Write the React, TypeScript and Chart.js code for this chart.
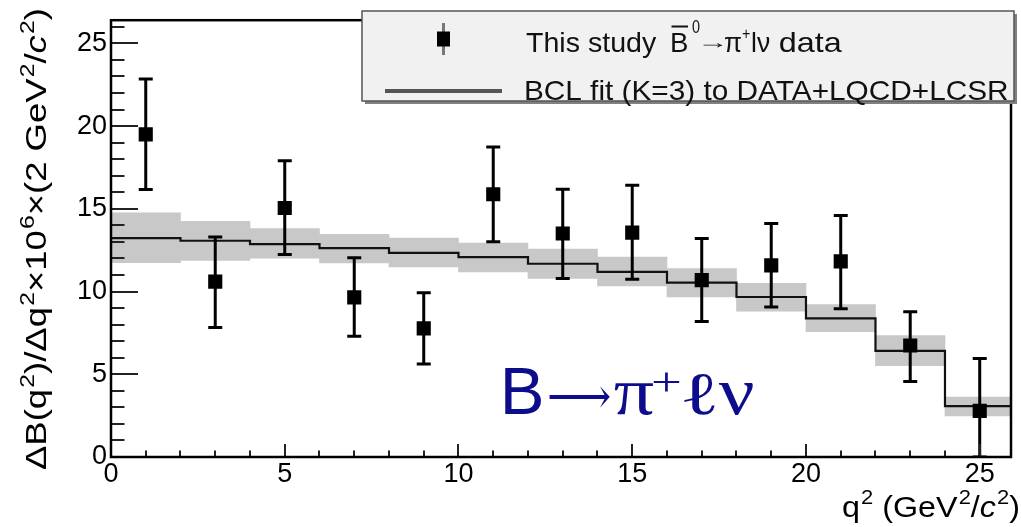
import React, { useEffect, useRef } from "react";
import { Chart, registerables } from "chart.js";

Chart.register(...registerables);

// ---- Data ----
const binEdges = [0, 2, 4, 6, 8, 10, 12, 14, 16, 18, 20, 22, 24, 26];
const fitValues = [13.23, 13.07, 12.87, 12.63, 12.34, 12.08, 11.68, 11.19, 10.54, 9.67, 8.38, 6.41, 3.08];
const bandHigh = [14.75, 14.25, 13.8, 13.46, 13.23, 12.93, 12.57, 12.08, 11.39, 10.5, 9.21, 7.34, 3.62];
const bandLow = [11.74, 11.88, 12.02, 11.73, 11.49, 11.19, 10.79, 10.34, 9.67, 8.82, 7.57, 5.52, 2.49];

const dataQ2 = [1, 3, 5, 7, 9, 11, 13, 15, 17, 19, 21, 23, 25];
const dataValues = [19.5, 10.6, 15.05, 9.65, 7.77, 15.88, 13.51, 13.56, 10.69, 11.58, 11.82, 6.74, 2.79];
const dataUpper = [22.84, 13.3, 17.91, 12.04, 9.93, 18.74, 16.18, 16.43, 13.21, 14.11, 14.59, 8.78, 5.95];
const dataLower = [16.17, 7.83, 12.24, 7.3, 5.62, 13.01, 10.79, 10.75, 8.19, 9.07, 8.96, 4.57, 0];

const xTickValues = [0, 5, 10, 15, 20, 25];
const yTickValues = [0, 5, 10, 15, 20, 25];

const X_MIN = 0;
const X_MAX = 25.9;
const Y_MIN = 0;
const Y_MAX = 26.4;

type Part = { t: string; sup?: boolean; italic?: boolean };
const yTitleParts: Part[] = [
  { t: "ΔB(q" }, { t: "2", sup: true }, { t: ")/Δq" }, { t: "2", sup: true },
  { t: "×10" }, { t: "6", sup: true }, { t: "×(2 GeV" }, { t: "2", sup: true },
  { t: "/" }, { t: "c", italic: true, sup: false }, { t: "2", sup: true }, { t: ")" },
];
const xTitleParts: Part[] = [
  { t: "q" }, { t: "2", sup: true }, { t: " (GeV" }, { t: "2", sup: true },
  { t: "/" }, { t: "c", italic: true }, { t: "2", sup: true }, { t: ")" },
];
const legendLine1 = "This study";
const legendLine2 = "BCL fit (K=3) to DATA+LQCD+LCSR";

const SANS = "'Liberation Sans', Arial, Helvetica, sans-serif";
const SERIF = "'Liberation Serif', 'DejaVu Serif', serif";

// draw text so that its glyph box starts at `left`, optionally stretched to `width`
function drawGlyph(ctx: CanvasRenderingContext2D, text: string, font: string, left: number, baseline: number, width?: number) {
  ctx.font = font;
  const m = ctx.measureText(text);
  const gl = m.actualBoundingBoxLeft;
  const gw = m.actualBoundingBoxLeft + m.actualBoundingBoxRight;
  const s = width ? width / gw : 1;
  ctx.save();
  ctx.translate(left, baseline);
  ctx.scale(s, 1);
  ctx.fillText(text, gl, 0);
  ctx.restore();
}

function richWidth(ctx: CanvasRenderingContext2D, parts: Part[], size: number) {
  let w = 0;
  for (const p of parts) {
    ctx.font = (p.italic ? "italic " : "") + (p.sup ? size * 0.68 : size) + "px " + SANS;
    w += ctx.measureText(p.t).width + (p.sup ? 1 : 0);
  }
  return w;
}

function drawRich(ctx: CanvasRenderingContext2D, parts: Part[], size: number, scale: number) {
  let x = 0;
  ctx.save();
  ctx.scale(scale, 1);
  for (const p of parts) {
    ctx.font = (p.italic ? "italic " : "") + (p.sup ? size * 0.68 : size) + "px " + SANS;
    const dy = p.sup ? -size * 0.42 : 0;
    ctx.fillText(p.t, x + (p.sup ? 1 : 0), dy);
    x += ctx.measureText(p.t).width + (p.sup ? 1 : 0);
  }
  ctx.restore();
}

// ---- Plugins ----
const errorBarPlugin = {
  id: "errorBars",
  afterDatasetsDraw(chart: any) {
    const { ctx, scales, chartArea } = chart;
    const x = scales.x;
    const y = scales.y;
    ctx.save();
    ctx.beginPath();
    ctx.rect(chartArea.left, chartArea.top, chartArea.right - chartArea.left, chartArea.bottom - chartArea.top);
    ctx.clip();
    ctx.strokeStyle = "#000";
    ctx.lineWidth = 3;
    ctx.beginPath();
    dataQ2.forEach((q, i) => {
      const px = x.getPixelForValue(q);
      const top = y.getPixelForValue(dataUpper[i]);
      const bot = y.getPixelForValue(dataLower[i]);
      ctx.moveTo(px, top);
      ctx.lineTo(px, bot);
      ctx.moveTo(px - 7, top);
      ctx.lineTo(px + 7, top);
      ctx.moveTo(px - 7, bot);
      ctx.lineTo(px + 7, bot);
    });
    ctx.stroke();
    ctx.restore();
  },
};

const framePlugin = {
  id: "frameTicks",
  afterDraw(chart: any) {
    const { ctx, scales, chartArea } = chart;
    const x = scales.x;
    const y = scales.y;
    const { left, right, top, bottom } = chartArea;
    const w = right - left;
    const h = bottom - top;

    // inner ticks
    ctx.save();
    ctx.strokeStyle = "#222";
    ctx.lineWidth = 2;
    ctx.beginPath();
    for (let v = 1; v <= Math.floor(Y_MAX); v++) {
      const py = Math.round(y.getPixelForValue(v));
      const len = v % 5 === 0 ? w * 0.03 : w * 0.015;
      ctx.moveTo(left, py);
      ctx.lineTo(left + len, py);
    }
    for (let v = 1; v <= Math.floor(X_MAX); v++) {
      const px = Math.round(x.getPixelForValue(v));
      const len = v % 5 === 0 ? h * 0.03 : h * 0.015;
      ctx.moveTo(px, bottom);
      ctx.lineTo(px, bottom - len);
    }
    ctx.stroke();
    ctx.strokeStyle = "#000";
    ctx.lineWidth = 2.5;
    ctx.strokeRect(left, top, w, h);
    ctx.restore();

    // axis titles
    ctx.save();
    ctx.fillStyle = "#000";
    ctx.textBaseline = "alphabetic";
    ctx.textAlign = "left";
    {
      const size = 29;
      const wq = richWidth(ctx, yTitleParts, size);
      const target = 462;
      ctx.save();
      ctx.translate(46, 470);
      ctx.rotate(-Math.PI / 2);
      drawRich(ctx, yTitleParts, size, target / wq);
      ctx.restore();
    }
    {
      const size = 30;
      const wq = richWidth(ctx, xTitleParts, size);
      const target = 178;
      ctx.save();
      ctx.translate(1020 - target, 517);
      drawRich(ctx, xTitleParts, size, target / wq);
      ctx.restore();
    }
    ctx.restore();

    // legend box
    ctx.save();
    const bx = 362, by = 11, bw = 652, bh = 90;
    ctx.fillStyle = "#808080";
    ctx.fillRect(bx + 3, by + 3, bw, bh);
    ctx.fillStyle = "#f1f1f1";
    ctx.fillRect(bx, by, bw, bh);
    ctx.strokeStyle = "#555";
    ctx.lineWidth = 1.5;
    ctx.strokeRect(bx, by, bw, bh);

    // entry 1 marker
    const mx = 443.5, my = 39;
    ctx.strokeStyle = "#777";
    ctx.lineWidth = 3;
    ctx.beginPath();
    ctx.moveTo(mx, my - 16);
    ctx.lineTo(mx, my + 16);
    ctx.stroke();
    ctx.fillStyle = "#000";
    ctx.fillRect(mx - 6.5, my - 7.5, 13, 15);

    // entry 2 line
    ctx.strokeStyle = "#555";
    ctx.lineWidth = 4;
    ctx.beginPath();
    ctx.moveTo(385, 91);
    ctx.lineTo(502, 91);
    ctx.stroke();

    // text entry 1
    ctx.fillStyle = "#111";
    ctx.textBaseline = "alphabetic";
    ctx.textAlign = "left";
    const f = "28.5px " + SANS;
    const fs = "18px " + SANS;
    const b1 = 52;
    drawGlyph(ctx, legendLine1, f, 526, b1, 131);
    drawGlyph(ctx, "B", f, 672, b1, 15.5);
    ctx.strokeStyle = "#111";
    ctx.lineWidth = 2;
    ctx.beginPath();
    ctx.moveTo(671.5, 26.5);
    ctx.lineTo(688, 26.5);
    ctx.stroke();
    drawGlyph(ctx, "0", fs, 692, 33, 8);
    drawGlyph(ctx, "→", "18px " + SANS, 702, 48, 21);
    drawGlyph(ctx, "π", f, 725, b1, 16.5);
    drawGlyph(ctx, "+", "16px " + SANS, 742, 39, 8);
    drawGlyph(ctx, "lν", f, 752, b1, 18);
    drawGlyph(ctx, "data", f, 780, b1, 62);

    // text entry 2
    drawGlyph(ctx, legendLine2, f, 526, 100, 482);
    ctx.restore();

    // annotation B -> pi+ l nu (anchored on data coordinates)
    ctx.save();
    ctx.fillStyle = "#0c0c8c";
    ctx.textBaseline = "alphabetic";
    const ax = x.getPixelForValue(11.33);
    const ay = y.getPixelForValue(2.61);
    drawGlyph(ctx, "B", "67px " + SANS, ax, ay, 37);
    drawGlyph(ctx, "⟶", "200 50px 'DejaVu Sans', 'DejaVu Serif', serif", ax + 44, ay - 1, 61);
    drawGlyph(ctx, "π", "68px " + SERIF, ax + 109, ay, 40);
    drawGlyph(ctx, "+", "40px " + SERIF, ax + 149, ay - 19, 26);
    drawGlyph(ctx, "ℓ", "200 60px 'DejaVu Sans', 'DejaVu Serif', serif", ax + 179, ay, 32);
    drawGlyph(ctx, "ν", "68px " + SERIF, ax + 214, ay, 35);
    ctx.restore();
  },
};

export default function App() {
  const canvasRef = useRef<HTMLCanvasElement | null>(null);

  useEffect(() => {
    const canvas = canvasRef.current;
    if (!canvas) return;

    const bandData = fitValues.map((_, i) => ({
      x: (binEdges[i] + binEdges[i + 1]) / 2,
      y: [bandLow[i], bandHigh[i]],
    }));
    const fitData: { x: number; y: number }[] = [];
    fitValues.forEach((v, i) => {
      fitData.push({ x: binEdges[i], y: v });
      fitData.push({ x: binEdges[i + 1], y: v });
    });
    const pointData = dataQ2.map((q, i) => ({ x: q, y: dataValues[i] }));

    const chart = new Chart(canvas, {
      type: "scatter",
      data: {
        datasets: [
          {
            type: "bar",
            label: "band",
            data: bandData as any,
            backgroundColor: "#c8c8c8",
            borderWidth: 0,
            barPercentage: 1,
            categoryPercentage: 1,
            order: 3,
          } as any,
          {
            type: "line",
            label: "fit",
            data: fitData,
            borderColor: "#111",
            borderWidth: 2.2,
            pointRadius: 0,
            fill: false,
            tension: 0,
            order: 2,
          } as any,
          {
            type: "scatter",
            label: "data",
            data: pointData,
            pointStyle: "rect",
            pointRadius: 10,
            backgroundColor: "#000",
            borderColor: "#000",
            borderWidth: 0,
            order: 1,
          } as any,
        ],
      },
      options: {
        animation: false,
        responsive: false,
        devicePixelRatio: 1,
        events: [],
        layout: { padding: { top: 11, right: 3, left: 0, bottom: 0 } },
        plugins: {
          legend: { display: false },
          tooltip: { enabled: false },
        },
        scales: {
          x: {
            type: "linear",
            min: X_MIN,
            max: X_MAX,
            offset: false,
            grid: { display: false, drawTicks: false, offset: false },
            border: { display: false },
            afterBuildTicks: (s: any) => {
              s.ticks = xTickValues.map((v) => ({ value: v }));
            },
            ticks: {
              color: "#000",
              font: { family: SANS, size: 27 },
              padding: 1,
              maxRotation: 0,
              autoSkip: false,
            },
            title: { display: false },
            afterFit: (s: any) => {
              s.height = 70;
            },
          },
          y: {
            type: "linear",
            min: Y_MIN,
            max: Y_MAX,
            grid: { display: false, drawTicks: false },
            border: { display: false },
            afterBuildTicks: (s: any) => {
              s.ticks = yTickValues.map((v) => ({ value: v }));
            },
            ticks: {
              color: "#000",
              font: { family: SANS, size: 27 },
              padding: 4,
            },
            title: { display: false },
            afterFit: (s: any) => {
              s.width = 111;
            },
          },
        },
      } as any,
      plugins: [errorBarPlugin, framePlugin],
    });

    return () => {
      chart.destroy();
    };
  }, []);

  return (
    <div style={{ position: "absolute", left: 0, top: 0, width: 1021, height: 527, background: "#fff" }}>
      <canvas ref={canvasRef} width={1021} height={527} style={{ width: 1021, height: 527, display: "block" }} />
    </div>
  );
}
